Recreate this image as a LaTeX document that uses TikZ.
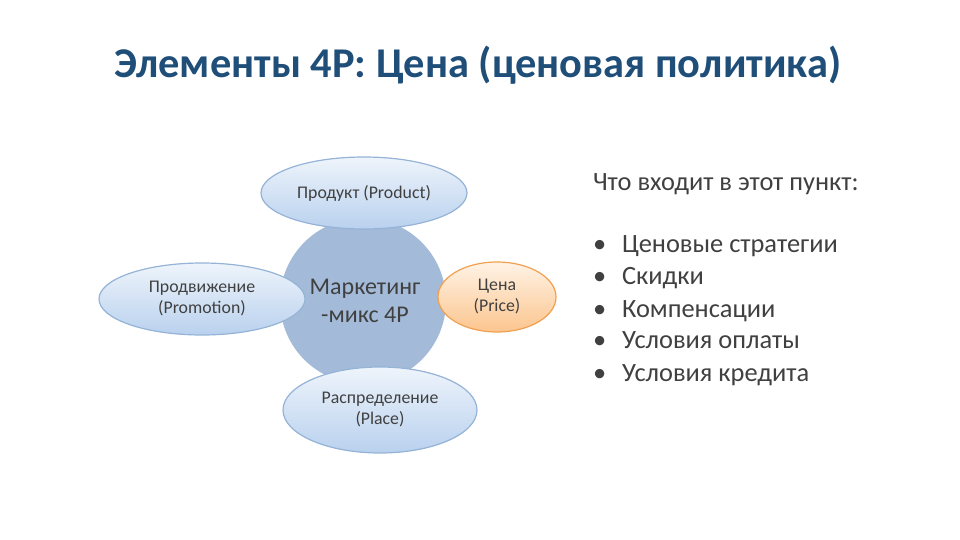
\documentclass[tikz,border=0pt]{standalone}
\usepackage{fontspec}
\setmainfont{Carlito}
\usetikzlibrary{shapes.geometric}
\definecolor{titleblue}{HTML}{1F4E79}
\definecolor{ballblue}{HTML}{A3BBD8}
\definecolor{elborder}{HTML}{95B3D7}
\definecolor{eltop}{HTML}{EEF4FB}
\definecolor{elbot}{HTML}{B9D1EE}
\definecolor{orborder}{HTML}{F0A050}
\definecolor{ortop}{HTML}{FFF3E6}
\definecolor{orbot}{HTML}{FBC58E}
\definecolor{txt}{HTML}{404040}
\tikzset{
  elbox/.style={ellipse, draw=elborder, line width=0.6pt, top color=eltop, bottom color=elbot, inner sep=0pt, align=center, font=\fontsize{8.9}{10.5}\selectfont, text=txt},
  orbox/.style={ellipse, draw=orborder, line width=0.6pt, top color=ortop, bottom color=orbot, inner sep=0pt, align=center, font=\fontsize{8.9}{10.5}\selectfont, text=txt},
  item/.style={anchor=base west, font=\fontsize{13.2}{15}\selectfont, text=txt}
}
\begin{document}
\begin{tikzpicture}[x=0.5pt,y=-0.5pt]
\useasboundingbox (0,0) rectangle (960,540);
\node (title) at (478,65) {\fontsize{21.2}{25}\selectfont\bfseries\color{titleblue}Элементы 4P: Цена (ценовая политика)};
\node[circle, fill=ballblue, minimum size=83pt, inner sep=0pt] (ball) at (363,301) {};
\node[elbox, minimum width=103pt, minimum height=36pt] (prod) at (364,193) {Продукт (Product)};
\node[elbox, minimum width=103pt, minimum height=36pt] (prom) at (202,299) {Продвижение\\(Promotion)};
\node[elbox, minimum width=97pt, minimum height=43pt] (place) at (380,410) {Распределение\\(Place)};
\node[orbox, minimum width=59pt, minimum height=35pt] (price) at (497,297) {Цена\\(Price)};
\node[align=center, font=\fontsize{12}{14}\selectfont, text=txt] (mix) at (365,301) {Маркетинг\\-микс 4P};
\node[item] (head) at (586,191) {Что входит в этот пункт:};
\foreach \t [count=\i] in {Ценовые стратегии, Скидки, Компенсации, Условия оплаты, Условия кредита}{
  \node[item] (b\i) at (586,221+32*\i) {•};
  \node[item] (it\i) at (615,221+32*\i) {\t};
}
\end{tikzpicture}
\end{document}
